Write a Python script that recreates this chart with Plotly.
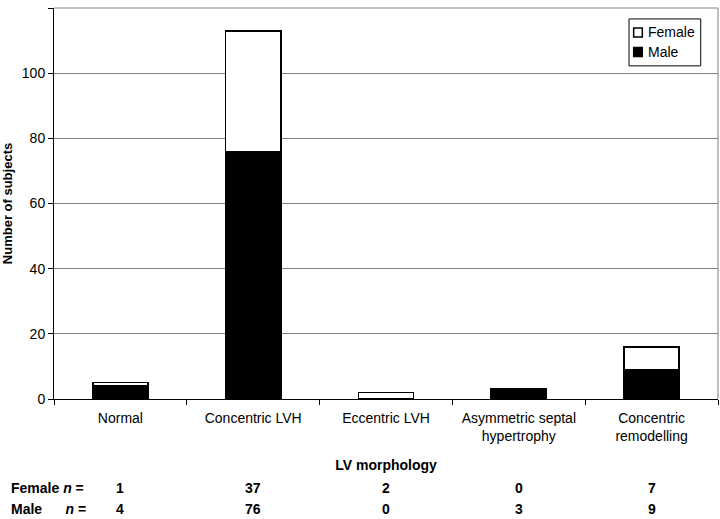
import plotly.graph_objects as go

# LV morphology groups and counts
categories = [
    "Normal",
    "Concentric LVH",
    "Eccentric LVH",
    "Asymmetric septal<br>hypertrophy",
    "Concentric<br>remodelling",
]
male = [4, 76, 0, 3, 9]
female = [1, 37, 2, 0, 7]
y_ticks = [0, 20, 40, 60, 80, 100, 120]

font = "Arial, Liberation Sans, sans-serif"

fig = go.Figure()
fig.add_trace(go.Bar(
    x=categories, y=male, name="Male",
    marker=dict(color="black", line=dict(color="black", width=1.5)),
))
fig.add_trace(go.Bar(
    x=categories, y=female, name="Female",
    marker=dict(color="white", line=dict(color="black", width=1.5)),
))

# n table under the chart (paper y is relative to the plot area)
row_f, row_m = -0.228, -0.281
fig.add_annotation(x=-0.068, y=row_f, xref="paper", yref="paper", xanchor="left",
                   yanchor="middle", showarrow=False,
                   text="<b>Female <i>n</i> =</b>", font=dict(size=14, family=font, color="black"))
fig.add_annotation(x=-0.068, y=row_m, xref="paper", yref="paper", xanchor="left",
                   yanchor="middle", showarrow=False,
                   text="<b>Male&nbsp;&nbsp;&nbsp;&nbsp;&nbsp;&nbsp;<i>n</i> =</b>",
                   font=dict(size=14, family=font, color="black"))
for c, f, m in zip(categories, female, male):
    fig.add_annotation(x=c, y=row_f, xref="x", yref="paper", showarrow=False,
                       yanchor="middle", text=f"<b>{f}</b>",
                       font=dict(size=14, family=font, color="black"))
    fig.add_annotation(x=c, y=row_m, xref="x", yref="paper", showarrow=False,
                       yanchor="middle", text=f"<b>{m}</b>",
                       font=dict(size=14, family=font, color="black"))

# compact legend box, drawn by hand (plotly's own legend is much wider)
fig.add_shape(type="rect", xref="paper", yref="paper", x0=0.866, x1=0.974, y0=0.852, y1=0.972,
              line=dict(color="black", width=1), fillcolor="white", layer="above")
fig.add_shape(type="rect", xref="paper", yref="paper", x0=0.873, x1=0.886, y0=0.926, y1=0.949,
              line=dict(color="black", width=1.5), fillcolor="white", layer="above")
fig.add_shape(type="rect", xref="paper", yref="paper", x0=0.873, x1=0.886, y0=0.876, y1=0.899,
              line=dict(color="black", width=1.5), fillcolor="black", layer="above")
fig.add_annotation(x=0.891, y=0.939, xref="paper", yref="paper", xanchor="left", yanchor="middle",
                   showarrow=False, text="Female", font=dict(size=14, family=font, color="black"))
fig.add_annotation(x=0.891, y=0.887, xref="paper", yref="paper", xanchor="left", yanchor="middle",
                   showarrow=False, text="Male", font=dict(size=14, family=font, color="black"))

fig.update_layout(
    barmode="stack",
    bargap=0.585,
    width=720, height=519,
    margin=dict(l=54, r=2, t=8, b=120, autoexpand=False),
    plot_bgcolor="white",
    paper_bgcolor="white",
    font=dict(family=font, size=13, color="black"),
    showlegend=False,
)
fig.update_xaxes(
    automargin=False,
    showline=True, linecolor="black", linewidth=1,
    ticks="outside", tickson="boundaries", ticklen=5, tickcolor="black",
    ticklabelstandoff=6,
    mirror=False,
    title=dict(text="<b>LV morphology</b>", font=dict(size=14), standoff=17),
    tickfont=dict(size=14),
)
fig.update_yaxes(
    automargin=False,
    range=[0, 120], tickmode="array", tickvals=y_ticks,
    showline=True, linecolor="black", linewidth=1,
    ticks="outside", ticklen=5, tickcolor="black",
    showgrid=True, gridcolor="#808080", gridwidth=1,
    zeroline=False,
    title=dict(text="<b>Number of subjects</b>", font=dict(size=13), standoff=7),
    tickfont=dict(size=14),
)
# right and top border of the plot area
fig.add_shape(type="line", xref="paper", yref="paper", x0=1, x1=1, y0=0, y1=1,
              line=dict(color="#808080", width=1))
fig.add_shape(type="line", xref="paper", yref="paper", x0=0, x1=1, y0=1, y1=1,
              line=dict(color="#808080", width=1))

# the page body has a default 8px margin; drop it so the figure fills the window
fig.write_html("out.html", config={"displayModeBar": False},
               post_script="document.body.style.margin='0';")
